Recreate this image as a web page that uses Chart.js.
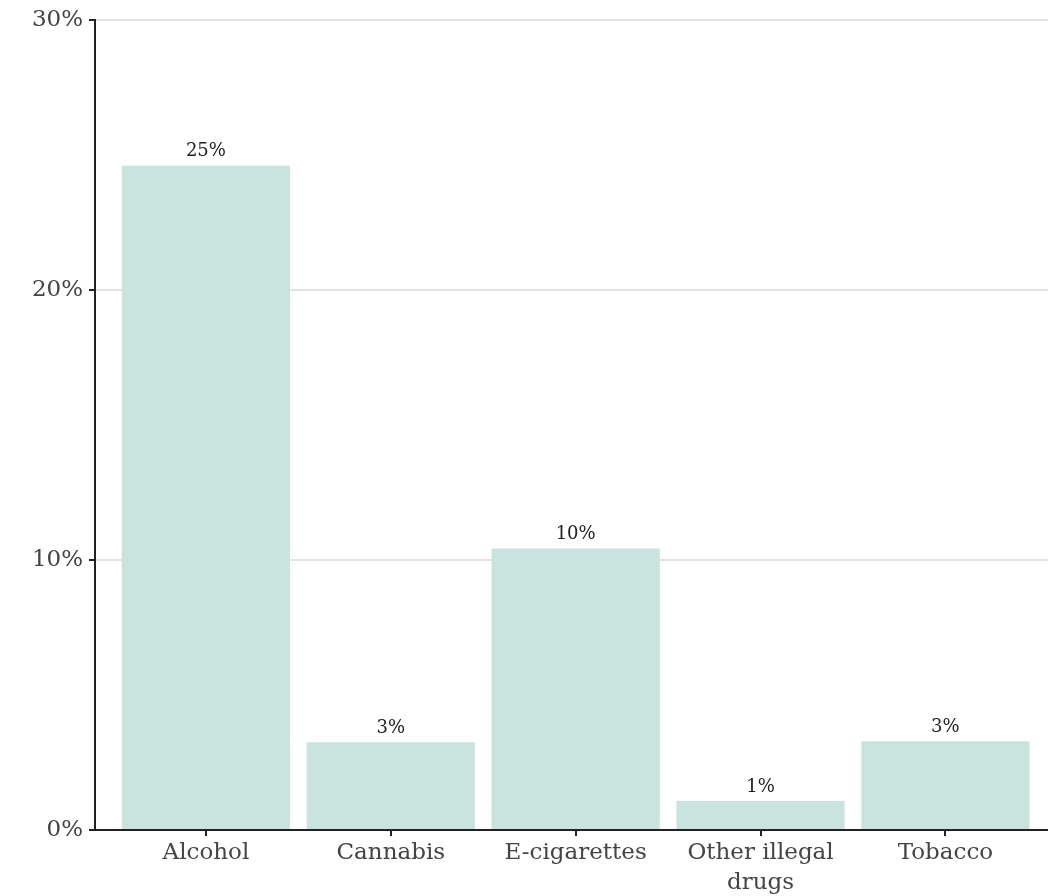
<!DOCTYPE html>
<html>
<head>
<meta charset="utf-8">
<script src="https://cdn.jsdelivr.net/npm/chart.js@4"></script>
<style>
    html, body { margin: 0; padding: 0; background: #fff; }
    #wrap { width: 1048px; height: 896px; }
</style>
</head>
<body>
<div id="wrap"><canvas id="chart"></canvas></div>
<script>
const categories = ['Alcohol', 'Cannabis', 'E-cigarettes', ['Other illegal', 'drugs'], 'Tobacco'];
const shares = [24.6, 3.25, 10.42, 1.07, 3.29];
const yTicks = [0, 10, 20, 30];

const serif = '"DejaVu Serif", "Liberation Serif", serif';

// value labels drawn above each bar
const barLabels = {
    id: 'barLabels',
    afterDatasetsDraw(chart) {
        const ctx = chart.ctx;
        const meta = chart.getDatasetMeta(0);
        ctx.save();
        ctx.font = '18px ' + serif;
        ctx.fillStyle = '#222';
        ctx.textAlign = 'center';
        ctx.textBaseline = 'bottom';
        meta.data.forEach((bar, i) => {
            ctx.fillText(Math.round(shares[i]) + '%', bar.x, bar.y - 5);
        });
        ctx.restore();
    }
};

new Chart(document.getElementById('chart'), {
    type: 'bar',
    data: {
        datasets: [{
            data: shares.map((v, i) => ({ x: i + 1, y: v })),
            backgroundColor: '#c9e4df',
            borderWidth: 0,
            barPercentage: 0.91,
            categoryPercentage: 1
        }]
    },
    options: {
        responsive: true,
        maintainAspectRatio: false,
        animation: false,
        layout: { padding: { top: 16, right: 0, left: 0, bottom: 0 } },
        plugins: {
            legend: { display: false },
            tooltip: { enabled: false }
        },
        scales: {
            x: {
                type: 'linear',
                min: 0.4,
                max: 5.555,
                offset: false,
                afterBuildTicks: axis => {
                    axis.ticks = categories.map((c, i) => ({ value: i + 1 }));
                },
                afterFit: axis => { axis.height = 66; },
                ticks: {
                    callback: v => categories[v - 1],
                    font: { family: serif, size: 23, lineHeight: 1.3 },
                    color: '#444',
                    padding: 2,
                    maxRotation: 0,
                    autoSkip: false
                },
                grid: {
                    offset: false,
                    drawOnChartArea: false,
                    tickLength: 6,
                    tickColor: '#222',
                    lineWidth: 2
                },
                border: { color: '#222', width: 2 }
            },
            y: {
                min: 0,
                max: 30,
                afterBuildTicks: axis => {
                    axis.ticks = yTicks.map(v => ({ value: v }));
                },
                afterFit: axis => { axis.width = 95; },
                ticks: {
                    callback: v => v + '%',
                    font: { family: serif, size: 23 },
                    color: '#444',
                    padding: 6
                },
                grid: {
                    color: c => c.tick && c.tick.value === 0 ? 'rgba(0,0,0,0)' : '#e3e3e3',
                    lineWidth: 2,
                    tickLength: 6,
                    tickColor: '#222'
                },
                border: { color: '#222', width: 2 }
            }
        }
    },
    plugins: [barLabels]
});
</script>
</body>
</html>
